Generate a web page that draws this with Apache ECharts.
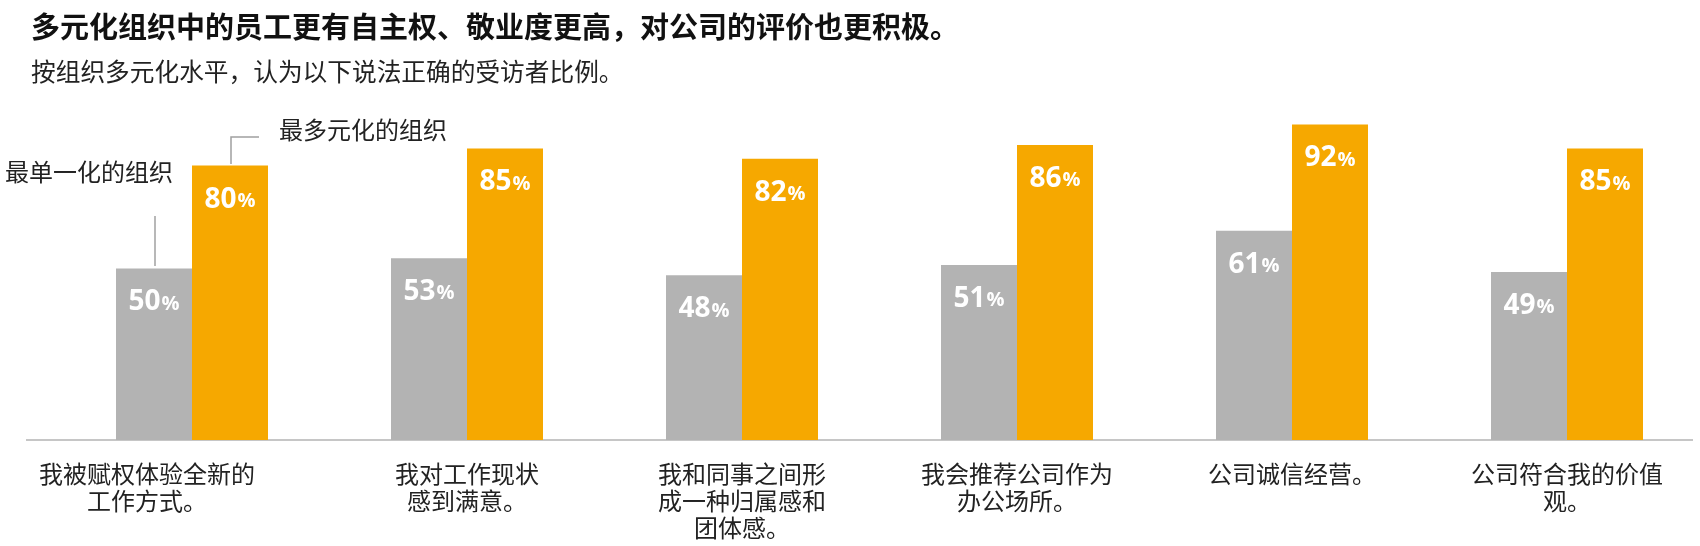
<!DOCTYPE html>
<html>
<head>
<meta charset="utf-8">
<title>多元化组织</title>
<script src="https://cdn.jsdelivr.net/npm/echarts@6/dist/echarts.min.js"></script>
<style>
  html, body { margin: 0; padding: 0; background: #fff; }
  #chart { width: 1700px; height: 546px; }
</style>
</head>
<body>
<div id="chart"></div>
<script>
const categories = [
  '我被赋权体验全新的\n工作方式。',
  '我对工作现状\n感到满意。',
  '我和同事之间形\n成一种归属感和\n团体感。',
  '我会推荐公司作为\n办公场所。',
  '公司诚信经营。',
  '公司符合我的价值\n观。',
];
const leastDiverse = [50, 53, 48, 51, 61, 49];
const mostDiverse = [80, 85, 82, 86, 92, 85];
const seriesNames = ['最单一化的组织', '最多元化的组织'];

const CJK = "'Noto Sans CJK SC', 'Noto Sans', sans-serif";
const NUM = "'Open Sans', 'Noto Sans CJK SC', sans-serif";

const chart = echarts.init(document.getElementById('chart'));

function pctLabel() {
  return {
    show: true,
    position: 'insideTop',
    distance: 19,
    formatter: (p) => `{n|${p.value}}{p|%}`,
    rich: {
      n: { fontFamily: NUM, fontSize: 28, fontWeight: 'bold', color: '#fff', lineHeight: 30 },
      p: { fontFamily: NUM, fontSize: 20, fontWeight: 'bold', color: '#fff', lineHeight: 30, padding: [3, 0, 0, 1] },
    },
  };
}

const option = {
  backgroundColor: '#fff',
  animation: false,
  title: [
    {
      text: '多元化组织中的员工更有自主权、敬业度更高，对公司的评价也更积极。',
      left: 26,
      top: 6,
      textStyle: { fontFamily: CJK, fontSize: 29, fontWeight: 'bold', color: '#111', lineHeight: 32 },
    },
    {
      text: '按组织多元化水平，认为以下说法正确的受访者比例。',
      left: 26,
      top: 52,
      textStyle: { fontFamily: CJK, fontSize: 24.7, fontWeight: 'normal', color: '#222', lineHeight: 30 },
    },
  ],
  grid: {
    left: 54.5,
    width: 1650,
    top: 97,
    bottom: 106,
    containLabel: false,
    outerBoundsMode: 'none',
  },
  xAxis: {
    type: 'category',
    data: categories,
    axisLine: { show: false },
    axisTick: { show: false },
    axisLabel: {
      interval: 0,
      margin: 20,
      fontFamily: CJK,
      fontSize: 24,
      lineHeight: 27,
      color: '#222',
      formatter: (v, i) => (i === 0 ? `{a|${v}}` : v),
      rich: {
        // 第一个标签在原图中偏左
        a: { fontFamily: CJK, fontSize: 24, lineHeight: 27, color: '#222', padding: [0, 90, 0, 0] },
      },
    },
  },
  yAxis: {
    type: 'value',
    min: 0,
    max: 100,
    show: false,
  },
  series: [
    {
      name: seriesNames[0],
      type: 'bar',
      data: leastDiverse,
      barWidth: 76,
      barGap: '0%',
      itemStyle: { color: '#b3b3b3' },
      label: pctLabel(),
    },
    {
      name: seriesNames[1],
      type: 'bar',
      data: mostDiverse,
      barWidth: 76,
      barGap: '0%',
      itemStyle: { color: '#f6a800' },
      label: pctLabel(),
    },
  ],
  graphic: [
    // 基线
    { type: 'line', shape: { x1: 26, y1: 440, x2: 1693, y2: 440 }, style: { stroke: '#c6c6c6', lineWidth: 2 } },
    // 图例标注
    { type: 'line', shape: { x1: 155, y1: 216, x2: 155, y2: 266 }, style: { stroke: '#a0a0a0', lineWidth: 1.5 } },
    { type: 'polyline', shape: { points: [[231, 164], [231, 137], [259, 137]] }, style: { stroke: '#a0a0a0', lineWidth: 1.5, fill: null } },
    {
      type: 'text', left: 5, top: 160,
      style: { text: seriesNames[0], fontFamily: CJK, fontSize: 24, fill: '#222' },
    },
    {
      type: 'text', left: 279, top: 118,
      style: { text: seriesNames[1], fontFamily: CJK, fontSize: 24, fill: '#222' },
    },
  ],
};

chart.setOption(option);
</script>
</body>
</html>
